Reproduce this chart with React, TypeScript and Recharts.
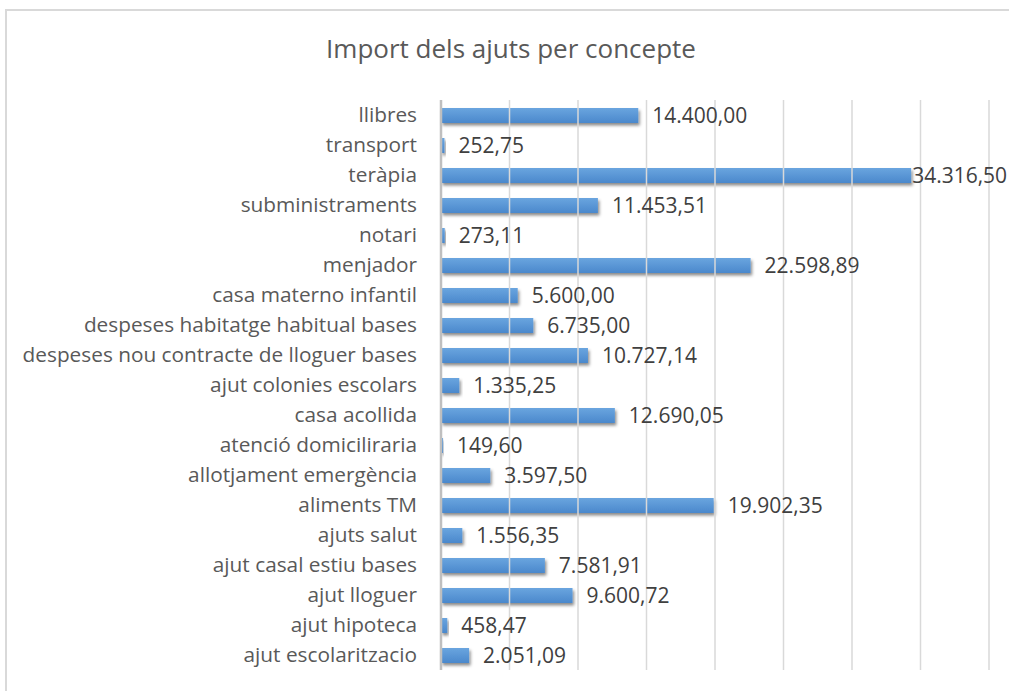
import { BarChart, Bar, XAxis, YAxis, LabelList, ReferenceLine } from 'recharts';

const categories = [
  'llibres',
  'transport',
  'teràpia',
  'subministraments',
  'notari',
  'menjador ',
  'casa materno infantil',
  'despeses habitatge habitual bases',
  'despeses nou contracte de lloguer bases',
  'ajut colonies escolars',
  'casa acollida',
  'atenció domiciliraria',
  'allotjament emergència',
  'aliments TM',
  'ajuts salut',
  'ajut casal estiu bases',
  'ajut lloguer',
  'ajut hipoteca',
  'ajut escolaritzacio',
];

const amounts = [
  14400.0, 252.75, 34316.5, 11453.51, 273.11, 22598.89, 5600.0, 6735.0, 10727.14, 1335.25,
  12690.05, 149.6, 3597.5, 19902.35, 1556.35, 7581.91, 9600.72, 458.47, 2051.09,
];

const xTicks = [5000, 10000, 15000, 20000, 25000, 30000, 35000, 40000];

const data = categories.map((name, i) => ({ name, value: amounts[i] }));

const FONT = '"Open Sans", "Noto Sans", sans-serif';
const LABEL = '#595959';
const VALUE = '#404040';
const CHART_W = 1009;
const VALUE_SIZE = 21;

function formatCa(v: number): string {
  const [intPart, dec] = v.toFixed(2).split('.');
  const grouped = intPart.replace(/\B(?=(\d{3})+(?!\d))/g, '.');
  return `${grouped},${dec}`;
}

// value label to the right of the bar, pulled back in when it would run off the edge
function ValueLabel(props: any) {
  const { x, y, width, height, value } = props;
  const text = formatCa(Number(value));
  const approxW = text.length * VALUE_SIZE * 0.54;
  let tx = Number(x) + Number(width) + 14;
  if (tx + approxW > CHART_W) tx = Number(x) + Number(width) + 1;
  return (
    <text
      x={tx}
      y={Number(y) + Number(height) / 2}
      dy="0.36em"
      fill={VALUE}
      fontSize={VALUE_SIZE}
      fontFamily={FONT}
    >
      {text}
    </text>
  );
}

export default function App() {
  return (
    <div
      style={{
        position: 'fixed',
        left: 0,
        top: 0,
        width: 1009,
        height: 691,
        background: '#fff',
        overflow: 'hidden',
        fontFamily: FONT,
      }}
    >
      <div
        style={{
          position: 'absolute',
          left: 5,
          top: 9,
          width: 1020,
          height: 700,
          border: '2px solid #d9d9d9',
          boxSizing: 'border-box',
        }}
      />
      <div
        style={{
          position: 'absolute',
          left: 0,
          top: 30,
          width: 1022,
          textAlign: 'center',
          fontSize: 26,
          color: LABEL,
        }}
      >
        Import dels ajuts per concepte
      </div>
      <div style={{ position: 'absolute', left: 0, top: 0 }}>
        <BarChart
          width={CHART_W}
          height={691}
          data={data}
          layout="vertical"
          margin={{ top: 100, right: 20, bottom: 21, left: 0 }}
          barSize={15}
        >
          <defs>
            <linearGradient id="barFill" x1="0" y1="0" x2="0" y2="1">
              <stop offset="0%" stopColor="#6aa5df" />
              <stop offset="100%" stopColor="#4a88cc" />
            </linearGradient>
            <filter id="barShadow" x="-10%" y="-50%" width="130%" height="250%">
              <feDropShadow dx="1.5" dy="2.5" stdDeviation="1.8" floodColor="#000" floodOpacity="0.45" />
            </filter>
          </defs>
          <XAxis
            type="number"
            domain={[0, 40000]}
            height={0}
            tick={false}
            axisLine={false}
            tickLine={false}
          />
          <YAxis
            type="category"
            dataKey="name"
            width={441}
            tickSize={0}
            tickMargin={24}
            axisLine={false}
            tickLine={false}
            interval={0}
            tick={{ fill: LABEL, fontSize: 20.8, fontFamily: FONT }}
          />
          {xTicks.map((t) => (
            <ReferenceLine key={t} x={t} stroke="#d9d9d9" strokeWidth={1.5} />
          ))}
          <ReferenceLine x={0} stroke="#bfbfbf" strokeWidth={2.5} />
          <Bar
            dataKey="value"
            fill="url(#barFill)"
            filter="url(#barShadow)"
            isAnimationActive={false}
          >
            <LabelList dataKey="value" content={<ValueLabel />} />
          </Bar>
        </BarChart>
      </div>
    </div>
  );
}
